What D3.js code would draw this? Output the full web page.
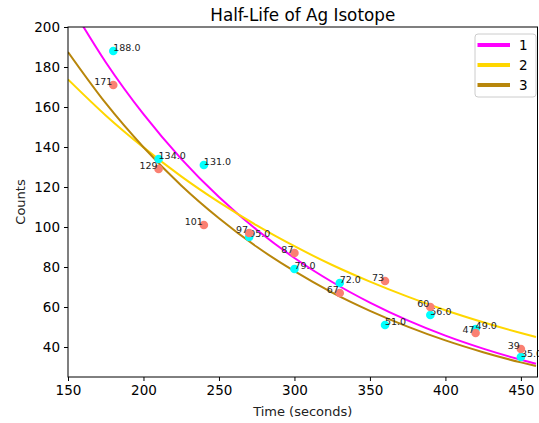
<!DOCTYPE html>
<html>
<head>
<meta charset="utf-8">
<script src="https://cdn.jsdelivr.net/npm/d3@7"></script>
<style>
  html, body { margin: 0; padding: 0; background: #fff; }
  svg { display: block; font-family: "DejaVu Sans", sans-serif; }
</style>
</head>
<body>
<svg id="chart" width="539" height="423"></svg>
<script>
// Measured counts at each sampling time
const times = [180, 210, 240, 270, 300, 330, 360, 390, 420, 450];
const countsRun1 = [188, 134, 131, 95, 79, 72, 51, 56, 49, 35];
const countsRun2 = [171, 129, 101, 97, 87, 67, 73, 60, 47, 39];

// Decay curves, sampled along the time axis
const curveTimes = [150, 175, 200, 225, 250, 275, 300, 325, 350, 375, 400, 425, 450, 460];
const curve1 = [212.9, 182.4, 156.4, 134.1, 115.0, 98.6, 84.5, 72.5, 62.2, 53.3, 45.7, 39.2, 33.6, 31.6];
const curve2 = [173.8, 155.8, 139.8, 125.3, 112.4, 100.8, 90.4, 81.0, 72.7, 65.2, 58.4, 52.4, 47.0, 45.0];
const curve3 = [187.5, 161.9, 139.9, 120.8, 104.4, 90.1, 77.9, 67.2, 58.1, 50.2, 43.3, 37.4, 32.3, 30.5];
const curveNames = ["1", "2", "3"];
const curveColors = ["#ff00ff", "#ffd700", "#b8860b"];

const xTicks = [150, 200, 250, 300, 350, 400, 450];
const yTicks = [40, 60, 80, 100, 120, 140, 160, 180, 200];

const svg = d3.select("#chart");
const plotL = 68, plotR = 537.5, plotT = 27, plotB = 377;

const x = d3.scaleLinear().domain([150, 461]).range([plotL, plotR]);
const y = d3.scaleLinear().domain([25, 200]).range([plotB, plotT]);

svg.append("defs").append("clipPath").attr("id", "plot-clip")
  .append("rect").attr("x", plotL).attr("y", plotT)
  .attr("width", plotR - plotL).attr("height", plotB - plotT);

// Axes
const xAxis = svg.append("g").attr("transform", `translate(0,${plotB})`)
  .call(d3.axisBottom(x).tickValues(xTicks).tickSize(4).tickPadding(4).tickFormat(d3.format("d")));
const yAxis = svg.append("g").attr("transform", `translate(${plotL},0)`)
  .call(d3.axisLeft(y).tickValues(yTicks).tickSize(4).tickPadding(4).tickFormat(d3.format("d")));
[xAxis, yAxis].forEach(g => {
  g.select(".domain").remove();
  g.selectAll("line").attr("stroke", "#000").attr("stroke-width", 1);
  g.selectAll("text").attr("font-size", 13.5).attr("fill", "#000")
    .attr("font-family", "DejaVu Sans, sans-serif");
});

// Decay curves
const line = d3.line().x((d, i) => x(curveTimes[i])).y(d => y(d)).curve(d3.curveMonotoneX);
const curves = [curve1, curve2, curve3];
svg.append("g").attr("clip-path", "url(#plot-clip)")
  .selectAll("path").data(curves).join("path")
  .attr("d", d => line(d))
  .attr("fill", "none")
  .attr("stroke", (d, i) => curveColors[i])
  .attr("stroke-width", 2);

// Run 1 points and labels
const pts = svg.append("g").attr("clip-path", "url(#plot-clip)");
pts.selectAll("circle.r1").data(times).join("circle").attr("class", "r1")
  .attr("cx", d => x(d)).attr("cy", (d, i) => y(countsRun1[i]))
  .attr("r", 4.3).attr("fill", "#00ffff");
svg.append("g").selectAll("text").data(times).join("text")
  .attr("x", d => x(d)).attr("y", (d, i) => y(countsRun1[i]))
  .attr("font-size", 9.5).attr("fill", "#222")
  .text((d, i) => countsRun1[i].toFixed(1));

// Run 2 points and labels
const pts2 = svg.append("g").attr("clip-path", "url(#plot-clip)");
pts2.selectAll("circle.r2").data(times).join("circle").attr("class", "r2")
  .attr("cx", d => x(d)).attr("cy", (d, i) => y(countsRun2[i]))
  .attr("r", 4.3).attr("fill", "#fa8072");
svg.append("g").selectAll("text").data(times).join("text")
  .attr("x", d => x(d) - 1).attr("y", (d, i) => y(countsRun2[i]))
  .attr("text-anchor", "end")
  .attr("font-size", 9.5).attr("fill", "#222")
  .text((d, i) => String(countsRun2[i]));

// Frame
svg.append("rect").attr("x", plotL).attr("y", plotT)
  .attr("width", plotR - plotL).attr("height", plotB - plotT)
  .attr("fill", "none").attr("stroke", "#000").attr("stroke-width", 1);

// Title and axis labels
svg.append("text").attr("x", (plotL + plotR) / 2).attr("y", 20.5)
  .attr("text-anchor", "middle").attr("font-size", 16.8).attr("fill", "#000")
  .text("Half-Life of Ag Isotope");
svg.append("text").attr("x", (plotL + plotR) / 2).attr("y", 416)
  .attr("text-anchor", "middle").attr("font-size", 13).attr("fill", "#222")
  .text("Time (seconds)");
svg.append("text").attr("transform", `translate(25,${(plotT + plotB) / 2}) rotate(-90)`)
  .attr("text-anchor", "middle").attr("font-size", 13).attr("fill", "#222")
  .text("Counts");

// Legend
const lg = svg.append("g").attr("transform", "translate(475,34)");
lg.append("rect").attr("x", 0).attr("y", 0).attr("width", 61).attr("height", 63)
  .attr("rx", 3).attr("fill", "#fff").attr("fill-opacity", 0.8)
  .attr("stroke", "#cccccc").attr("stroke-width", 1);
curveNames.forEach((name, i) => {
  const yy = 11 + i * 20;
  lg.append("line").attr("x1", 2.5).attr("x2", 35).attr("y1", yy).attr("y2", yy)
    .attr("stroke", curveColors[i]).attr("stroke-width", 4);
  lg.append("text").attr("x", 44).attr("y", yy + 5)
    .attr("font-size", 13.5).attr("fill", "#000").text(name);
});
</script>
</body>
</html>
